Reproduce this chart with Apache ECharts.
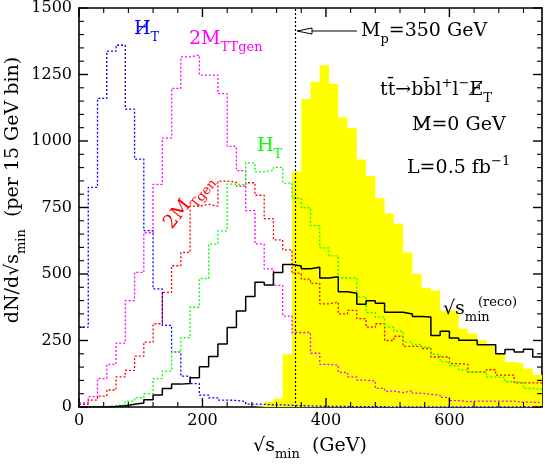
<!DOCTYPE html>
<html>
<head>
<meta charset="utf-8">
<script src="https://cdn.jsdelivr.net/npm/echarts@6/dist/echarts.min.js"></script>
<style>
  * { margin: 0; padding: 0; }
  body { background: #fff; }
  #chart { width: 545px; height: 464px; }
</style>
</head>
<body>
<div id="chart"></div>
<script>
// 15 GeV bins from 0 to 750 GeV (50 bins)
var binWidth = 15
var yellowTrue = [0,0,0,0,0,0,0,0,0,0, 0,0,0,0,0,0,0,0,0,3, 20,32,198,885,1158,1223,1285,1215,1088,1048, 930,868,786,727,689,581,500,447,438,363, 363,294,276,251,230,201,169,163,145,120]
var blackReco = [0,0,0,2,5,10,15,27,45,70, 86,88,110,151,190,237,299,361,415,469, 459,506,536,530,520,525,485,490,433,428, 386,399,390,356,356,350,340,338,269,285, 259,251,251,234,234,200,216,207,217,188]
var blueMet = [300,826,1160,1338,1360,1120,932,663,444,307, 207,116,88,45,34,26,25,20,11,10, 8,8,6,5,4,3,2,2,2,1, 1,1,1,0,0,0,0,0,0,0, 0,0,0,0,0,0,0,0,0,0]
var magentaTT = [15,39,107,160,240,400,506,655,837,1011, 1198,1316,1323,1248,1248,1178,980,889,738,613, 519,457,342,280,280,202,160,158,130,113, 101,98,70,60,54,61,52,48,44,36, 24,20,22,22,22,22,22,18,18,17]
var redT = [10,26,41,64,113,138,191,244,313,431, 531,581,755,762,755,849,845,830,843,796, 708,628,591,503,481,465,388,394,350,363, 332,300,313,250,266,228,228,220,188,188, 163,160,132,132,140,120,120,91,91,91]
var greenHT = [0,0,2,5,8,22,35,50,107,135, 207,261,375,483,612,662,838,835,918,884, 890,901,842,784,749,682,598,568,485,485, 414,355,338,300,285,244,235,225,198,170, 155,140,130,130,113,110,95,91,70,66]
var xTicks = [0, 200, 400, 600]
var yTicks = [0, 250, 500, 750, 1000, 1250, 1500]
var xMax = 750, yMax = 1500
var mpLine = 350

function steps(bins) {
  var d = bins.map(function (v, i) { return [i * binWidth, v] })
  d.push([bins.length * binWidth, bins[bins.length - 1]])
  return d
}

var serif = 'DejaVu Serif'
var chart = echarts.init(document.getElementById('chart'), null, { renderer: 'canvas' })

function axisCommon(dim, pos, labels) {
  var ax = {
    type: 'value',
    min: 0,
    max: dim === 'x' ? xMax : yMax,
    interval: dim === 'x' ? 200 : 250,
    position: pos,
    axisLine: { show: true, onZero: false, lineStyle: { color: '#000', width: 1.6 } },
    axisTick: { show: false },
    splitLine: { show: false },
    axisLabel: { show: false }
  }
  if (labels) {
    ax.axisLabel = {
      show: true, color: '#000', fontFamily: serif, fontSize: 16, margin: dim === 'x' ? 6 : 7,
      formatter: function (v) { return labels.indexOf(v) >= 0 ? String(v) : '' }
    }
  }
  return ax
}

function histLine(name, bins, color, dotted) {
  return {
    name: name,
    type: 'line',
    step: 'end',
    data: steps(bins),
    symbol: 'none',
    silent: true,
    lineStyle: { color: color, width: dotted ? 1.3 : 1.5, type: dotted ? [2, 2] : 'solid' },
    z: 3
  }
}

// rich text styles: every token bottom aligned, raise base text with padding
var rich = {
  n: { fontFamily: serif, fontSize: 19, verticalAlign: 'bottom', padding: [0, 0, 5, 0] },
  s: { fontFamily: serif, fontSize: 13, verticalAlign: 'bottom', padding: [0, 0, 0, 0] },
  u: { fontFamily: serif, fontSize: 13, verticalAlign: 'bottom', padding: [0, 0, 15, 0] }
}
function label(x, y, text, color, extra) {
  var el = {
    type: 'text', x: x, y: y, silent: true, z: 10,
    style: { text: text, rich: rich, fill: color, fontFamily: serif, fontSize: 19 }
  }
  if (extra) Object.assign(el, extra)
  return el
}

var baseGraphic = [
  // axis titles
  label(16, 190, '', '#000',
    { rotation: Math.PI / 2, style: { text: '{n|dN/d√s}{s|min}{n|  (per 15 GeV bin)}', rich: rich, fill: '#000', align: 'center', verticalAlign: 'middle' } }),
  label(310, 449, '', '#000',
    { style: { text: '{n|√s}{s|min}{n|  (GeV)}', rich: rich, fill: '#000', align: 'center', verticalAlign: 'middle' } }),
  // curve labels
  label(134, 20, '{n|H̸}{s|T}', '#0000ff'),
  label(189, 30, '{n|2M}{s|TTgen}', '#ff00ff'),
  label(257, 137, '{n|H}{s|T}', '#00ff00'),
  label(190, 203, '', '#ff0000',
    { rotation: 0.9, style: { text: '{n|2M}{s|Tgen}', rich: rich, fill: '#ff0000', align: 'center', verticalAlign: 'middle' } }),
  label(443, 300, '{n|√s}{s|min}', '#000'),
  label(478, 296, '{u|(reco)}', '#000'),
  // header texts
  label(361, 22, '{n|M}{s|p}{n|=350 GeV}', '#000'),
  label(380, 77, '{n|tt̄→bb̄l}{u|+}{n|l}{u|−}{n|E̸}{s|T}', '#000'),
  label(412, 116, '{n|M̸=0 GeV}', '#000'),
  label(407, 155, '{n|L=0.5 fb}{u|−1}', '#000'),
  // arrow to the Mp line
  { type: 'line', silent: true, z: 10, shape: { x1: 311, y1: 31, x2: 357, y2: 31 }, style: { stroke: '#000', lineWidth: 1 } },
  { type: 'polygon', silent: true, z: 10, shape: { points: [[297, 31], [312, 28], [312, 34]] }, style: { fill: '#fff', stroke: '#000', lineWidth: 1 } }
]

var option = {
  animation: false,
  backgroundColor: '#fff',
  grid: { left: 79, right: 3, top: 5, bottom: 57 },
  xAxis: [axisCommon('x', 'bottom', xTicks), axisCommon('x', 'top', null)],
  yAxis: [axisCommon('y', 'left', yTicks), axisCommon('y', 'right', null)],
  series: [
    {
      name: 'true', type: 'line', step: 'end', data: steps(yellowTrue), symbol: 'none', silent: true,
      lineStyle: { width: 0 }, areaStyle: { color: '#ffff00', opacity: 1 }, z: 1,
      markLine: {
        silent: true, symbol: ['none', 'none'], label: { show: false },
        lineStyle: { color: '#000', type: [2, 2], width: 1.2 },
        data: [{ xAxis: mpLine }], z: 4
      }
    },
    histLine('MET', blueMet, '#0000ff', true),
    histLine('2MTTgen', magentaTT, '#ff00ff', true),
    histLine('2MTgen', redT, '#ff0000', true),
    histLine('HT', greenHT, '#00ff00', true),
    histLine('reco', blackReco, '#000000', false)
  ],
  graphic: baseGraphic
}
chart.setOption(option)

// inward ticks on all four sides, placed through the axes' own scales
function px(axis, v) {
  return axis === 'x' ? chart.convertToPixel({ xAxisIndex: 0 }, v) : chart.convertToPixel({ yAxisIndex: 0 }, v)
}
var ticks = []
var xl = px('x', 0), xr = px('x', xMax), yb = px('y', 0), yt = px('y', yMax)
function tickLine(x1, y1, x2, y2, major) {
  ticks.push({ type: 'line', silent: true, z: 20, shape: { x1: x1, y1: y1, x2: x2, y2: y2 },
    style: { stroke: '#000', lineWidth: major ? 1.4 : 1.1 } })
}
var xStep = (xTicks[1] - xTicks[0]) / 5, yStep = (yTicks[1] - yTicks[0]) / 5
for (var xv = 0; xv <= xMax; xv += xStep) {
  var mj = xTicks.indexOf(xv) >= 0, L = mj ? 9 : 5, p = px('x', xv)
  tickLine(p, yb, p, yb - L, mj)
  tickLine(p, yt, p, yt + L, mj)
}
for (var yv = 0; yv <= yMax; yv += yStep) {
  var mjy = yTicks.indexOf(yv) >= 0, Ly = mjy ? 9 : 5, q = px('y', yv)
  tickLine(xl, q, xl + Ly, q, mjy)
  tickLine(xr, q, xr - Ly, q, mjy)
}
chart.setOption({ graphic: baseGraphic.concat(ticks) })
</script>
</body>
</html>
